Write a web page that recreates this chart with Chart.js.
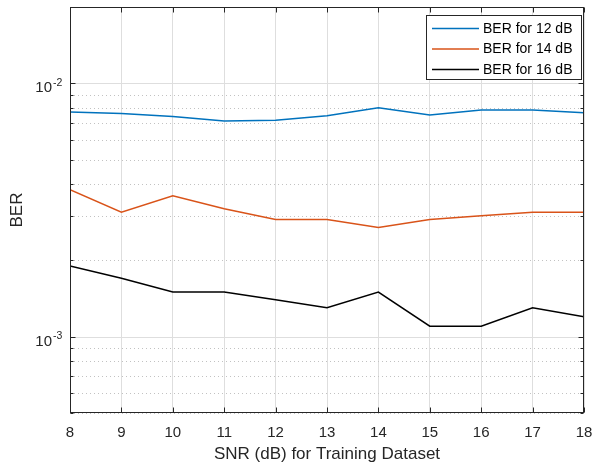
<!DOCTYPE html>
<html>
<head>
<meta charset="utf-8">
<script src="https://cdn.jsdelivr.net/npm/chart.js@4.4.1/dist/chart.umd.min.js"></script>
<style>
  html, body { margin: 0; padding: 0; background: #fff; }
</style>
</head>
<body>
<canvas id="canvas" width="594" height="468"></canvas>
<script>
// values
var snr = [8, 9, 10, 11, 12, 13, 14, 15, 16, 17, 18];
var ber12 = [0.0077, 0.0076, 0.0074, 0.0071, 0.00715, 0.00745, 0.0080, 0.0075, 0.00785, 0.00785, 0.00766];
var ber14 = [0.0038, 0.0031, 0.0036, 0.0032, 0.0029, 0.0029, 0.0027, 0.0029, 0.0030, 0.0031, 0.0031];
var ber16 = [0.0019, 0.0017, 0.0015, 0.0015, 0.0014, 0.0013, 0.0015, 0.0011, 0.0011, 0.0013, 0.0012];

var seriesLabels = ['BER for 12 dB', 'BER for 14 dB', 'BER for 16 dB'];
var seriesColors = ['#0072BD', '#D95319', '#000000'];

var yMajor = [0.001, 0.01];
var yMinor = [0.0005, 0.0006, 0.0007, 0.0008, 0.0009, 0.002, 0.003, 0.004, 0.005, 0.006, 0.007, 0.008, 0.009, 0.02];
var yTickLabels = ['-3', '-2'];

var FONT = "'Liberation Sans', Arial, Helvetica, sans-serif";
var AXIS_COLOR = '#262626';
Chart.defaults.font.family = FONT;

function pts(ys) {
    return snr.map(function (x, i) { return {x: x, y: ys[i]}; });
}

var matlabAxes = {
    id: 'matlabAxes',
    beforeDatasetsDraw: function (chart) {
        var ctx = chart.ctx, a = chart.chartArea, y = chart.scales.y;
        ctx.save();
        ctx.lineWidth = 1;
        // minor grid, dotted
        ctx.strokeStyle = '#c2c2c2';
        ctx.setLineDash([1, 3]);
        yMinor.forEach(function (v) {
            var py = Math.round(y.getPixelForValue(v)) + 0.5;
            ctx.beginPath(); ctx.moveTo(a.left, py); ctx.lineTo(a.right, py); ctx.stroke();
        });
        // major grid
        ctx.setLineDash([]);
        ctx.strokeStyle = '#dedede';
        yMajor.forEach(function (v) {
            var py = Math.round(y.getPixelForValue(v)) + 0.5;
            ctx.beginPath(); ctx.moveTo(a.left, py); ctx.lineTo(a.right, py); ctx.stroke();
        });
        ctx.restore();
    },
    afterDraw: function (chart) {
        var ctx = chart.ctx, a = chart.chartArea, x = chart.scales.x, y = chart.scales.y;
        var L = Math.round(a.left) + 0.5, R = Math.round(a.right) - 0.5;
        var T = Math.round(a.top) + 0.5, B = Math.round(a.bottom) - 0.5;
        ctx.save();
        ctx.strokeStyle = AXIS_COLOR;
        ctx.lineWidth = 1;
        ctx.strokeRect(L, T, R - L, B - T);

        // inward ticks
        ctx.beginPath();
        snr.forEach(function (v) {
            var px = Math.round(x.getPixelForValue(v)) + 0.5;
            ctx.moveTo(px, B); ctx.lineTo(px, B - 5);
            ctx.moveTo(px, T); ctx.lineTo(px, T + 5);
        });
        yMajor.forEach(function (v) {
            var py = Math.round(y.getPixelForValue(v)) + 0.5;
            ctx.moveTo(L, py); ctx.lineTo(L + 5, py);
            ctx.moveTo(R, py); ctx.lineTo(R - 5, py);
        });
        yMinor.forEach(function (v) {
            var py = Math.round(y.getPixelForValue(v)) + 0.5;
            ctx.moveTo(L, py); ctx.lineTo(L + 3, py);
            ctx.moveTo(R, py); ctx.lineTo(R - 3, py);
        });
        ctx.stroke();

        // y tick labels 10^-3, 10^-2
        ctx.fillStyle = AXIS_COLOR;
        yMajor.forEach(function (v, i) {
            var py = y.getPixelForValue(v);
            ctx.font = '15px ' + FONT;
            ctx.textAlign = 'right';
            ctx.textBaseline = 'alphabetic';
            ctx.fillText('10', 52, py + 9);
            ctx.font = '10.5px ' + FONT;
            ctx.textAlign = 'left';
            ctx.fillText(yTickLabels[i], 53, py + 2.5);
        });

        // y title
        ctx.save();
        ctx.translate(17, (a.top + a.bottom) / 2);
        ctx.rotate(-Math.PI / 2);
        ctx.font = '17px ' + FONT;
        ctx.textAlign = 'center';
        ctx.textBaseline = 'middle';
        ctx.fillText('BER', 0, 0);
        ctx.restore();

        // legend box
        var lx = 426.5, ly = 15.5, lw = 155, lh = 64;
        ctx.fillStyle = '#ffffff';
        ctx.fillRect(lx, ly, lw, lh);
        ctx.strokeStyle = AXIS_COLOR;
        ctx.strokeRect(lx, ly, lw, lh);
        var rows = [28, 48.5, 69];
        chart.data.datasets.forEach(function (ds, i) {
            ctx.strokeStyle = ds.borderColor;
            ctx.lineWidth = 1.5;
            ctx.beginPath();
            ctx.moveTo(432, rows[i] + 0.5); ctx.lineTo(479, rows[i] + 0.5);
            ctx.stroke();
            ctx.fillStyle = '#000000';
            ctx.font = '14px ' + FONT;
            ctx.textAlign = 'left';
            ctx.textBaseline = 'middle';
            ctx.fillText(ds.label, 483, rows[i] + 1);
        });
        ctx.restore();
    }
};

new Chart(document.getElementById('canvas').getContext('2d'), {
    type: 'line',
    data: {
        datasets: [
            {label: seriesLabels[0], data: pts(ber12), borderColor: seriesColors[0]},
            {label: seriesLabels[1], data: pts(ber14), borderColor: seriesColors[1]},
            {label: seriesLabels[2], data: pts(ber16), borderColor: seriesColors[2]}
        ]
    },
    options: {
        responsive: false,
        animation: false,
        devicePixelRatio: 1,
        elements: {
            line: {borderWidth: 1.5, tension: 0, fill: false},
            point: {radius: 0, hoverRadius: 0}
        },
        layout: {padding: {top: 7, right: 10, left: 0, bottom: 0}},
        plugins: {
            legend: {display: false},
            tooltip: {enabled: false}
        },
        scales: {
            x: {
                type: 'linear',
                min: 8,
                max: 18,
                ticks: {stepSize: 1, color: AXIS_COLOR, font: {size: 15}, padding: 11, maxRotation: 0},
                grid: {color: '#dedede', drawTicks: false},
                border: {display: false},
                title: {
                    display: true,
                    text: 'SNR (dB) for Training Dataset',
                    color: AXIS_COLOR,
                    font: {size: 17},
                    padding: {top: 0, bottom: 3}
                },
                afterFit: function (s) {
                    s.height = 55;
                    s.paddingLeft = 0;
                    s.paddingRight = 0;
                }
            },
            y: {
                type: 'logarithmic',
                min: 0.0005,
                max: 0.02,
                ticks: {display: false},
                grid: {display: false},
                border: {display: false},
                afterFit: function (s) {
                    s.width = 70;
                    s.paddingTop = 0;
                    s.paddingBottom = 0;
                }
            }
        }
    },
    plugins: [matlabAxes]
});
</script>
</body>
</html>
